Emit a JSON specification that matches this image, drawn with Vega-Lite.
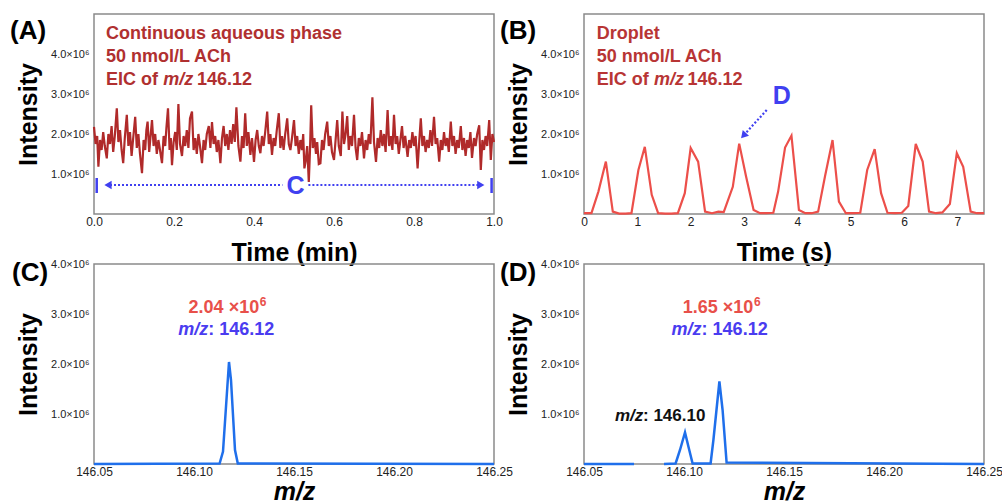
{
  "$schema": "https://vega.github.io/schema/vega-lite/v6.json",
  "autosize": {"type": "none"},
  "padding": {"left": 94, "top": 14, "right": 908, "bottom": 490},
  "background": "white",
  "config": {
    "font": "Liberation Sans",
    "view": {"stroke": "#8a8a8a", "strokeWidth": 1.5},
    "axis": {"grid": false, "domain": false, "ticks": false, "labelFont": "Liberation Sans", "labelColor": "#222222", "titleFont": "Liberation Sans", "titleFontSize": 25, "titleFontWeight": "bold", "titleColor": "#000000", "labelFlush": false, "labelOverlap": false},
    "axisLeft": {"labelFontSize": 11, "labelPadding": 5, "titleX": -66, "titleY": 100, "titleAngle": -90, "titleBaseline": "middle", "titleAlign": "center"},
    "axisBottom": {"labelFontSize": 12, "labelPadding": 2, "titleBaseline": "alphabetic", "titleAlign": "center", "titleX": 200}
  },
  "datasets": {
    "eicA": [
      {"t":0.000,"v":2.18},{"t":0.004,"v":1.75},{"t":0.008,"v":1.95},{"t":0.011,"v":1.18},{"t":0.015,"v":1.85},{"t":0.019,"v":1.6},{"t":0.023,"v":2.05},{"t":0.027,"v":1.7},{"t":0.032,"v":1.39},{"t":0.036,"v":2.0},
      {"t":0.040,"v":1.75},{"t":0.044,"v":2.2},{"t":0.048,"v":1.55},{"t":0.052,"v":1.95},{"t":0.057,"v":2.64},{"t":0.061,"v":1.8},{"t":0.065,"v":2.1},{"t":0.069,"v":1.6},{"t":0.073,"v":1.27},{"t":0.077,"v":1.9},
      {"t":0.082,"v":2.48},{"t":0.086,"v":1.7},{"t":0.090,"v":2.05},{"t":0.094,"v":1.45},{"t":0.098,"v":1.9},{"t":0.103,"v":2.43},{"t":0.107,"v":1.65},{"t":0.111,"v":2.0},{"t":0.115,"v":1.5},{"t":0.120,"v":1.02},
      {"t":0.124,"v":1.85},{"t":0.128,"v":1.6},{"t":0.131,"v":2.1},{"t":0.134,"v":2.31},{"t":0.138,"v":1.55},{"t":0.141,"v":1.9},{"t":0.145,"v":2.35},{"t":0.149,"v":1.7},{"t":0.153,"v":2.0},{"t":0.157,"v":1.5},
      {"t":0.161,"v":1.85},{"t":0.165,"v":1.6},{"t":0.170,"v":1.27},{"t":0.174,"v":1.95},{"t":0.178,"v":1.7},{"t":0.181,"v":2.15},{"t":0.185,"v":2.64},{"t":0.189,"v":1.6},{"t":0.192,"v":1.9},{"t":0.195,"v":1.22},
      {"t":0.199,"v":1.8},{"t":0.203,"v":2.05},{"t":0.207,"v":1.6},{"t":0.211,"v":2.75},{"t":0.215,"v":1.75},{"t":0.220,"v":1.45},{"t":0.224,"v":1.95},{"t":0.228,"v":1.7},{"t":0.232,"v":2.1},{"t":0.236,"v":1.65},
      {"t":0.240,"v":2.39},{"t":0.245,"v":2.56},{"t":0.249,"v":1.6},{"t":0.253,"v":1.9},{"t":0.257,"v":1.5},{"t":0.261,"v":2.0},{"t":0.265,"v":1.7},{"t":0.270,"v":1.27},{"t":0.274,"v":1.85},{"t":0.278,"v":1.6},
      {"t":0.282,"v":2.0},{"t":0.287,"v":2.2},{"t":0.291,"v":1.65},{"t":0.295,"v":2.3},{"t":0.299,"v":1.75},{"t":0.303,"v":1.95},{"t":0.307,"v":1.55},{"t":0.311,"v":1.85},{"t":0.316,"v":1.27},{"t":0.320,"v":1.9},
      {"t":0.324,"v":2.2},{"t":0.328,"v":1.7},{"t":0.332,"v":2.0},{"t":0.336,"v":1.6},{"t":0.340,"v":2.1},{"t":0.344,"v":1.75},{"t":0.348,"v":2.25},{"t":0.352,"v":1.8},{"t":0.356,"v":2.67},{"t":0.361,"v":1.7},
      {"t":0.366,"v":1.31},{"t":0.370,"v":1.95},{"t":0.374,"v":1.65},{"t":0.378,"v":2.52},{"t":0.382,"v":1.7},{"t":0.386,"v":2.05},{"t":0.391,"v":1.48},{"t":0.395,"v":1.9},{"t":0.400,"v":1.3},{"t":0.404,"v":1.85},
      {"t":0.408,"v":2.1},{"t":0.412,"v":1.7},{"t":0.416,"v":1.52},{"t":0.420,"v":1.95},{"t":0.424,"v":1.7},{"t":0.428,"v":2.05},{"t":0.433,"v":2.56},{"t":0.437,"v":1.75},{"t":0.441,"v":2.0},{"t":0.445,"v":1.48},
      {"t":0.449,"v":1.9},{"t":0.453,"v":1.7},{"t":0.457,"v":2.1},{"t":0.462,"v":2.52},{"t":0.466,"v":1.65},{"t":0.470,"v":1.95},{"t":0.474,"v":1.6},{"t":0.478,"v":2.0},{"t":0.483,"v":2.39},{"t":0.487,"v":1.75},
      {"t":0.491,"v":1.6},{"t":0.495,"v":1.9},{"t":0.500,"v":2.35},{"t":0.504,"v":1.7},{"t":0.508,"v":1.95},{"t":0.512,"v":1.5},{"t":0.516,"v":1.85},{"t":0.520,"v":1.6},{"t":0.523,"v":2.0},{"t":0.526,"v":1.14},
      {"t":0.529,"v":1.31},{"t":0.533,"v":1.7},{"t":0.537,"v":0.8},{"t":0.540,"v":1.6},{"t":0.543,"v":2.72},{"t":0.547,"v":1.65},{"t":0.551,"v":1.9},{"t":0.555,"v":1.5},{"t":0.558,"v":1.8},{"t":0.562,"v":1.25},
      {"t":0.566,"v":1.27},{"t":0.570,"v":1.85},{"t":0.574,"v":1.6},{"t":0.578,"v":2.0},{"t":0.583,"v":2.31},{"t":0.587,"v":1.7},{"t":0.591,"v":1.95},{"t":0.595,"v":1.55},{"t":0.600,"v":1.35},{"t":0.604,"v":1.85},
      {"t":0.608,"v":2.35},{"t":0.612,"v":1.7},{"t":0.617,"v":1.45},{"t":0.621,"v":2.56},{"t":0.625,"v":1.75},{"t":0.629,"v":2.0},{"t":0.633,"v":2.45},{"t":0.637,"v":1.6},{"t":0.641,"v":1.95},{"t":0.645,"v":1.7},
      {"t":0.650,"v":2.48},{"t":0.654,"v":1.65},{"t":0.658,"v":1.35},{"t":0.662,"v":1.9},{"t":0.666,"v":1.7},{"t":0.670,"v":2.05},{"t":0.675,"v":1.39},{"t":0.679,"v":1.85},{"t":0.683,"v":1.6},{"t":0.687,"v":2.0},
      {"t":0.691,"v":1.75},{"t":0.696,"v":2.92},{"t":0.700,"v":1.8},{"t":0.705,"v":1.3},{"t":0.709,"v":1.9},{"t":0.713,"v":1.65},{"t":0.717,"v":2.1},{"t":0.721,"v":1.7},{"t":0.725,"v":2.0},{"t":0.729,"v":1.55},
      {"t":0.734,"v":2.6},{"t":0.738,"v":1.7},{"t":0.742,"v":1.95},{"t":0.746,"v":1.6},{"t":0.750,"v":2.48},{"t":0.754,"v":1.75},{"t":0.758,"v":1.95},{"t":0.762,"v":1.5},{"t":0.766,"v":1.85},{"t":0.770,"v":2.2},
      {"t":0.774,"v":1.65},{"t":0.778,"v":1.95},{"t":0.784,"v":1.43},{"t":0.788,"v":1.85},{"t":0.792,"v":1.65},{"t":0.796,"v":2.05},{"t":0.800,"v":1.7},{"t":0.804,"v":1.95},{"t":0.809,"v":1.14},{"t":0.813,"v":1.8},
      {"t":0.817,"v":2.39},{"t":0.821,"v":1.7},{"t":0.825,"v":1.95},{"t":0.829,"v":1.55},{"t":0.833,"v":1.85},{"t":0.837,"v":1.65},{"t":0.841,"v":2.1},{"t":0.845,"v":1.7},{"t":0.850,"v":2.43},{"t":0.854,"v":1.75},
      {"t":0.858,"v":1.9},{"t":0.863,"v":1.31},{"t":0.867,"v":1.85},{"t":0.871,"v":1.6},{"t":0.875,"v":2.05},{"t":0.879,"v":1.7},{"t":0.883,"v":1.9},{"t":0.887,"v":1.55},{"t":0.892,"v":2.31},{"t":0.896,"v":1.7},
      {"t":0.900,"v":1.95},{"t":0.904,"v":1.5},{"t":0.908,"v":1.85},{"t":0.912,"v":1.65},{"t":0.917,"v":2.2},{"t":0.921,"v":1.6},{"t":0.925,"v":1.9},{"t":0.929,"v":1.45},{"t":0.933,"v":1.85},{"t":0.937,"v":1.65},
      {"t":0.941,"v":2.05},{"t":0.945,"v":1.4},{"t":0.950,"v":1.9},{"t":0.954,"v":1.7},{"t":0.958,"v":2.0},{"t":0.963,"v":2.22},{"t":0.967,"v":1.1},{"t":0.971,"v":1.85},{"t":0.975,"v":1.6},{"t":0.979,"v":1.95},
      {"t":0.983,"v":1.7},{"t":0.988,"v":2.35},{"t":0.992,"v":1.35},{"t":0.996,"v":2.0},{"t":1.000,"v":1.8}
    ],
    "eicB": [
      {"t":0,"v":0.02},{"t":0.14,"v":0.02},{"t":0.27,"v":0.56},{"t":0.41,"v":1.31},{"t":0.54,"v":0.06},{"t":0.66,"v":0.01},{"t":0.78,"v":0.01},{"t":0.89,"v":0.02},
      {"t":1.02,"v":1.10},{"t":1.14,"v":1.68},{"t":1.27,"v":0.48},{"t":1.39,"v":0.02},{"t":1.52,"v":0.01},{"t":1.64,"v":0.01},{"t":1.76,"v":0.02},
      {"t":1.89,"v":0.52},{"t":2.00,"v":1.65},{"t":2.14,"v":1.31},{"t":2.27,"v":0.06},{"t":2.40,"v":0.02},{"t":2.52,"v":0.06},{"t":2.62,"v":0.05},
      {"t":2.79,"v":0.68},{"t":2.91,"v":1.76},{"t":3.04,"v":0.93},{"t":3.18,"v":0.10},{"t":3.30,"v":0.02},{"t":3.42,"v":0.02},{"t":3.55,"v":0.03},
      {"t":3.64,"v":0.56},{"t":3.77,"v":1.66},{"t":3.89,"v":1.96},{"t":4.03,"v":0.10},{"t":4.15,"v":0.02},{"t":4.27,"v":0.02},{"t":4.39,"v":0.06},
      {"t":4.52,"v":0.95},{"t":4.66,"v":1.85},{"t":4.78,"v":0.31},{"t":4.91,"v":0.02},{"t":5.05,"v":0.02},{"t":5.18,"v":0.03},
      {"t":5.31,"v":1.10},{"t":5.45,"v":1.62},{"t":5.57,"v":0.52},{"t":5.69,"v":0.03},{"t":5.83,"v":0.02},{"t":5.96,"v":0.03},
      {"t":6.08,"v":0.20},{"t":6.22,"v":1.75},{"t":6.35,"v":1.31},{"t":6.47,"v":0.06},{"t":6.60,"v":0.02},{"t":6.72,"v":0.04},
      {"t":6.86,"v":0.25},{"t":6.99,"v":1.52},{"t":7.11,"v":1.18},{"t":7.25,"v":0.06},{"t":7.37,"v":0.02},{"t":7.50,"v":0.02}
    ],
    "msC": [
      {"mz":146.05,"v":0},{"mz":146.1128,"v":0.01},{"mz":146.1145,"v":0.25},{"mz":146.1175,"v":2.04},{"mz":146.1185,"v":1.68},{"mz":146.1205,"v":0.28},{"mz":146.1219,"v":0.01},{"mz":146.25,"v":0}
    ],
    "msD": [
      {"seg":1,"mz":146.05,"v":0},{"seg":1,"mz":146.075,"v":0},
      {"seg":2,"mz":146.09,"v":0},{"seg":2,"mz":146.0958,"v":0.01},{"seg":2,"mz":146.098,"v":0.28},{"seg":2,"mz":146.1005,"v":0.63},{"seg":2,"mz":146.1022,"v":0.35},{"seg":2,"mz":146.1043,"v":0.01},
      {"seg":2,"mz":146.1133,"v":0.01},{"seg":2,"mz":146.1147,"v":0.48},{"seg":2,"mz":146.1177,"v":1.65},{"seg":2,"mz":146.1193,"v":1.08},{"seg":2,"mz":146.1213,"v":0.03},{"seg":2,"mz":146.25,"v":0}
    ]
  },
  "columns": 2,
  "spacing": {"row": 50, "column": 90},
  "bounds": "flush",
  "concat": [
    {
      "width": 400, "height": 200,
      "layer": [
        {
          "data": {"name": "eicA"},
          "mark": {"type": "line", "color": "#B02A2A", "strokeWidth": 2.2},
          "encoding": {
            "x": {"field": "t", "type": "quantitative", "scale": {"domain": [0, 1], "nice": false, "zero": false},
                  "axis": {"title": "Time (min)", "values": [0, 0.2, 0.4, 0.6, 0.8, 1.0], "format": ".1f", "titleY": 46}},
            "y": {"field": "v", "type": "quantitative", "scale": {"domain": [0, 5], "nice": false},
                  "axis": {"title": "Intensity", "values": [1, 2, 3, 4], "labelExpr": "format(datum.value, '.1f') + '×10⁶'"}}
          }
        },
        {
          "data": {"values": [{"t": -0.21, "v": 4.575, "label": "(A)"}]},
          "mark": {"type": "text", "align": "left", "baseline": "middle", "fontSize": 26, "fontWeight": "bold", "color": "#000000", "font": "Liberation Sans"},
          "encoding": {"x": {"field": "t", "type": "quantitative"}, "y": {"field": "v", "type": "quantitative"}, "text": {"field": "label"}}
        },
        {
          "data": {"values": [
            {"t": 0.03, "v": 4.375, "label": "Continuous aqueous phase"},
            {"t": 0.03, "v": 3.8, "label": "50 nmol/L ACh"},
            {"t": 0.03, "v": 3.225, "label": "EIC of"},
            {"t": 0.2574, "v": 3.225, "label": "146.12"}
          ]},
          "mark": {"type": "text", "align": "left", "baseline": "alphabetic", "fontSize": 18, "fontWeight": "bold", "color": "#B03030", "font": "Liberation Sans"},
          "encoding": {"x": {"field": "t", "type": "quantitative"}, "y": {"field": "v", "type": "quantitative"}, "text": {"field": "label"}}
        },
        {
          "data": {"values": [{"t": 0.173, "v": 3.225, "label": "m/z"}]},
          "mark": {"type": "text", "align": "left", "baseline": "alphabetic", "fontSize": 18, "fontWeight": "bold", "fontStyle": "italic", "color": "#B03030", "font": "Liberation Sans"},
          "encoding": {"x": {"field": "t", "type": "quantitative"}, "y": {"field": "v", "type": "quantitative"}, "text": {"field": "label"}}
        },
        {
          "data": {"values": [{"t": 0.03, "t2": 0.471, "v": 0.725}, {"t": 0.536, "t2": 0.97, "v": 0.725}]},
          "mark": {"type": "rule", "color": "#4040F0", "strokeWidth": 2.2, "strokeDash": [2, 2]},
          "encoding": {"x": {"field": "t", "type": "quantitative"}, "x2": {"field": "t2"}, "y": {"field": "v", "type": "quantitative"}}
        },
        {
          "data": {"values": [{"t": 0.0068, "v": 0.525, "v2": 0.9}, {"t": 0.994, "v": 0.525, "v2": 0.9}]},
          "mark": {"type": "rule", "color": "#4040F0", "strokeWidth": 2.5},
          "encoding": {"x": {"field": "t", "type": "quantitative"}, "y": {"field": "v", "type": "quantitative"}, "y2": {"field": "v2"}}
        },
        {
          "data": {"values": [{"t": 0.035, "v": 0.725, "dir": "triangle-left"}, {"t": 0.967, "v": 0.725, "dir": "triangle-right"}]},
          "mark": {"type": "point", "filled": true, "color": "#4040F0", "opacity": 1, "size": 70},
          "encoding": {"x": {"field": "t", "type": "quantitative"}, "y": {"field": "v", "type": "quantitative"},
                       "shape": {"field": "dir", "type": "nominal", "scale": {"domain": ["triangle-left", "triangle-right"], "range": ["triangle-left", "triangle-right"]}, "legend": null}}
        },
        {
          "data": {"values": [{"t": 0.504, "v": 0.725, "label": "C"}]},
          "mark": {"type": "text", "align": "center", "baseline": "middle", "fontSize": 25, "fontWeight": "bold", "color": "#4040F0", "font": "Liberation Sans", "dy": 1},
          "encoding": {"x": {"field": "t", "type": "quantitative"}, "y": {"field": "v", "type": "quantitative"}, "text": {"field": "label"}}
        }
      ]
    },
    {
      "width": 400, "height": 200,
      "layer": [
        {
          "data": {"name": "eicB"},
          "mark": {"type": "line", "color": "#EC4F4A", "strokeWidth": 2.2},
          "encoding": {
            "x": {"field": "t", "type": "quantitative", "scale": {"domain": [0, 7.5], "nice": false, "zero": false},
                  "axis": {"title": "Time (s)", "values": [0, 1, 2, 3, 4, 5, 6, 7], "format": "d", "titleY": 46}},
            "y": {"field": "v", "type": "quantitative", "scale": {"domain": [0, 5], "nice": false},
                  "axis": {"title": "Intensity", "values": [1, 2, 3, 4], "labelExpr": "format(datum.value, '.1f') + '×10⁶'"}}
          }
        },
        {
          "data": {"values": [{"t": -1.575, "v": 4.575, "label": "(B)"}]},
          "mark": {"type": "text", "align": "left", "baseline": "middle", "fontSize": 26, "fontWeight": "bold", "color": "#000000", "font": "Liberation Sans"},
          "encoding": {"x": {"field": "t", "type": "quantitative"}, "y": {"field": "v", "type": "quantitative"}, "text": {"field": "label"}}
        },
        {
          "data": {"values": [
            {"t": 0.238, "v": 4.375, "label": "Droplet"},
            {"t": 0.238, "v": 3.8, "label": "50 nmol/L ACh"},
            {"t": 0.238, "v": 3.225, "label": "EIC of"},
            {"t": 1.939, "v": 3.225, "label": "146.12"}
          ]},
          "mark": {"type": "text", "align": "left", "baseline": "alphabetic", "fontSize": 18, "fontWeight": "bold", "color": "#B83535", "font": "Liberation Sans"},
          "encoding": {"x": {"field": "t", "type": "quantitative"}, "y": {"field": "v", "type": "quantitative"}, "text": {"field": "label"}}
        },
        {
          "data": {"values": [{"t": 1.3125, "v": 3.225, "label": "m/z"}]},
          "mark": {"type": "text", "align": "left", "baseline": "alphabetic", "fontSize": 18, "fontWeight": "bold", "fontStyle": "italic", "color": "#B83535", "font": "Liberation Sans"},
          "encoding": {"x": {"field": "t", "type": "quantitative"}, "y": {"field": "v", "type": "quantitative"}, "text": {"field": "label"}}
        },
        {
          "data": {"values": [{"t": 3.426, "t2": 3.03, "v": 2.6, "v2": 2.02}]},
          "mark": {"type": "rule", "color": "#4040F0", "strokeWidth": 2.2, "strokeDash": [2, 2]},
          "encoding": {"x": {"field": "t", "type": "quantitative"}, "x2": {"field": "t2"}, "y": {"field": "v", "type": "quantitative"}, "y2": {"field": "v2"}}
        },
        {
          "data": {"values": [{"t": 2.99, "v": 1.96}]},
          "mark": {"type": "point", "shape": "triangle-up", "angle": 221.6, "filled": true, "color": "#4040F0", "opacity": 1, "size": 70},
          "encoding": {"x": {"field": "t", "type": "quantitative"}, "y": {"field": "v", "type": "quantitative"}}
        },
        {
          "data": {"values": [{"t": 3.707, "v": 2.975, "label": "D"}]},
          "mark": {"type": "text", "align": "center", "baseline": "middle", "fontSize": 25, "fontWeight": "bold", "color": "#4040F0", "font": "Liberation Sans", "dy": 1},
          "encoding": {"x": {"field": "t", "type": "quantitative"}, "y": {"field": "v", "type": "quantitative"}, "text": {"field": "label"}}
        }
      ]
    },
    {
      "width": 400, "height": 200,
      "layer": [
        {
          "data": {"name": "msC"},
          "mark": {"type": "line", "color": "#1F6FEB", "strokeWidth": 2.5},
          "encoding": {
            "x": {"field": "mz", "type": "quantitative", "scale": {"domain": [146.05, 146.25], "nice": false, "zero": false},
                  "axis": {"title": "m/z", "titleFontStyle": "italic", "values": [146.05, 146.1, 146.15, 146.2, 146.25], "format": ".2f", "titleY": 35}},
            "y": {"field": "v", "type": "quantitative", "scale": {"domain": [0, 4], "nice": false},
                  "axis": {"title": "Intensity", "values": [1, 2, 3, 4], "labelExpr": "format(datum.value, '.1f') + '×10⁶'"}}
          }
        },
        {
          "data": {"values": [{"mz": 146.009, "v": 3.82, "label": "(C)"}]},
          "mark": {"type": "text", "align": "left", "baseline": "middle", "fontSize": 26, "fontWeight": "bold", "color": "#000000", "font": "Liberation Sans"},
          "encoding": {"x": {"field": "mz", "type": "quantitative"}, "y": {"field": "v", "type": "quantitative"}, "text": {"field": "label"}}
        },
        {
          "data": {"values": [{"mz": 146.0973, "v": 3.014, "label": "2.04 ×10"}]},
          "mark": {"type": "text", "align": "left", "baseline": "alphabetic", "fontSize": 18, "fontWeight": "bold", "color": "#E8504A", "font": "Liberation Sans"},
          "encoding": {"x": {"field": "mz", "type": "quantitative"}, "y": {"field": "v", "type": "quantitative"}, "text": {"field": "label"}}
        },
        {
          "data": {"values": [{"mz": 146.1329, "v": 3.16, "label": "6"}]},
          "mark": {"type": "text", "align": "left", "baseline": "alphabetic", "fontSize": 12, "fontWeight": "bold", "color": "#E8504A", "font": "Liberation Sans"},
          "encoding": {"x": {"field": "mz", "type": "quantitative"}, "y": {"field": "v", "type": "quantitative"}, "text": {"field": "label"}}
        },
        {
          "data": {"values": [{"mz": 146.0921, "v": 2.58, "label": "m/z"}]},
          "mark": {"type": "text", "align": "left", "baseline": "alphabetic", "fontSize": 18, "fontWeight": "bold", "fontStyle": "italic", "color": "#4A3CF0", "font": "Liberation Sans"},
          "encoding": {"x": {"field": "mz", "type": "quantitative"}, "y": {"field": "v", "type": "quantitative"}, "text": {"field": "label"}}
        },
        {
          "data": {"values": [{"mz": 146.1071, "v": 2.58, "label": ": 146.12"}]},
          "mark": {"type": "text", "align": "left", "baseline": "alphabetic", "fontSize": 18, "fontWeight": "bold", "color": "#4A3CF0", "font": "Liberation Sans"},
          "encoding": {"x": {"field": "mz", "type": "quantitative"}, "y": {"field": "v", "type": "quantitative"}, "text": {"field": "label"}}
        }
      ]
    },
    {
      "width": 400, "height": 200,
      "layer": [
        {
          "data": {"name": "msD"},
          "mark": {"type": "line", "color": "#1F6FEB", "strokeWidth": 2.5},
          "encoding": {
            "x": {"field": "mz", "type": "quantitative", "scale": {"domain": [146.05, 146.25], "nice": false, "zero": false},
                  "axis": {"title": "m/z", "titleFontStyle": "italic", "values": [146.05, 146.1, 146.15, 146.2, 146.25], "format": ".2f", "titleY": 35}},
            "y": {"field": "v", "type": "quantitative", "scale": {"domain": [0, 4], "nice": false},
                  "axis": {"title": "Intensity", "values": [1, 2, 3, 4], "labelExpr": "format(datum.value, '.1f') + '×10⁶'"}},
            "detail": {"field": "seg", "type": "nominal"}
          }
        },
        {
          "data": {"values": [{"mz": 146.008, "v": 3.82, "label": "(D)"}]},
          "mark": {"type": "text", "align": "left", "baseline": "middle", "fontSize": 26, "fontWeight": "bold", "color": "#000000", "font": "Liberation Sans"},
          "encoding": {"x": {"field": "mz", "type": "quantitative"}, "y": {"field": "v", "type": "quantitative"}, "text": {"field": "label"}}
        },
        {
          "data": {"values": [{"mz": 146.0994, "v": 3.014, "label": "1.65 ×10"}]},
          "mark": {"type": "text", "align": "left", "baseline": "alphabetic", "fontSize": 18, "fontWeight": "bold", "color": "#E8504A", "font": "Liberation Sans"},
          "encoding": {"x": {"field": "mz", "type": "quantitative"}, "y": {"field": "v", "type": "quantitative"}, "text": {"field": "label"}}
        },
        {
          "data": {"values": [{"mz": 146.135, "v": 3.16, "label": "6"}]},
          "mark": {"type": "text", "align": "left", "baseline": "alphabetic", "fontSize": 12, "fontWeight": "bold", "color": "#E8504A", "font": "Liberation Sans"},
          "encoding": {"x": {"field": "mz", "type": "quantitative"}, "y": {"field": "v", "type": "quantitative"}, "text": {"field": "label"}}
        },
        {
          "data": {"values": [{"mz": 146.0938, "v": 2.58, "label": "m/z"}]},
          "mark": {"type": "text", "align": "left", "baseline": "alphabetic", "fontSize": 18, "fontWeight": "bold", "fontStyle": "italic", "color": "#4A3CF0", "font": "Liberation Sans"},
          "encoding": {"x": {"field": "mz", "type": "quantitative"}, "y": {"field": "v", "type": "quantitative"}, "text": {"field": "label"}}
        },
        {
          "data": {"values": [{"mz": 146.1088, "v": 2.58, "label": ": 146.12"}]},
          "mark": {"type": "text", "align": "left", "baseline": "alphabetic", "fontSize": 18, "fontWeight": "bold", "color": "#4A3CF0", "font": "Liberation Sans"},
          "encoding": {"x": {"field": "mz", "type": "quantitative"}, "y": {"field": "v", "type": "quantitative"}, "text": {"field": "label"}}
        },
        {
          "data": {"values": [{"mz": 146.0655, "v": 0.867, "label": "m/z"}]},
          "mark": {"type": "text", "align": "left", "baseline": "alphabetic", "fontSize": 17, "fontWeight": "bold", "fontStyle": "italic", "color": "#111111", "font": "Liberation Sans"},
          "encoding": {"x": {"field": "mz", "type": "quantitative"}, "y": {"field": "v", "type": "quantitative"}, "text": {"field": "label"}}
        },
        {
          "data": {"values": [{"mz": 146.0795, "v": 0.867, "label": ": 146.10"}]},
          "mark": {"type": "text", "align": "left", "baseline": "alphabetic", "fontSize": 17, "fontWeight": "bold", "color": "#111111", "font": "Liberation Sans"},
          "encoding": {"x": {"field": "mz", "type": "quantitative"}, "y": {"field": "v", "type": "quantitative"}, "text": {"field": "label"}}
        }
      ]
    }
  ]
}
